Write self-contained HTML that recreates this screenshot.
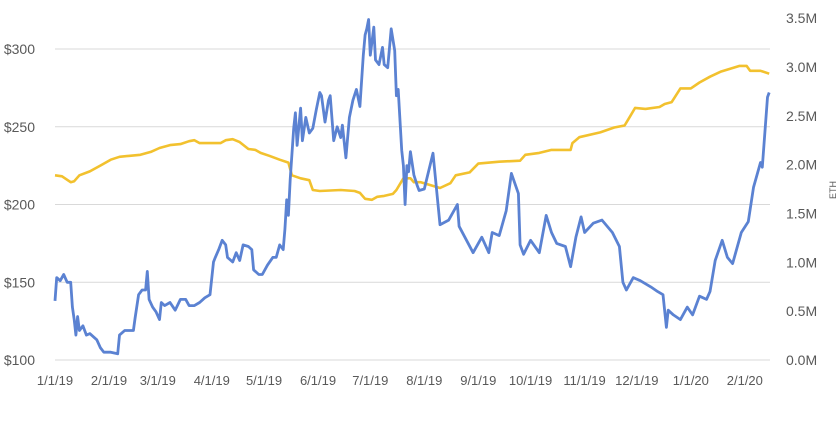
<!DOCTYPE html>
<html><head><meta charset="utf-8"><style>
body{margin:0;background:#fff;width:840px;height:430px;overflow:hidden}
svg text{font-family:"Liberation Sans",sans-serif;fill:#595959}
</style></head><body>
<svg id="chart" width="840" height="430" xmlns="http://www.w3.org/2000/svg">
<g id="grid"></g>
<g id="yl"></g>
<g id="yr"></g>
<g id="xl"></g>
<text transform="translate(836,190) rotate(-90)" text-anchor="middle" font-size="9">ETH</text>
<path id="holdLine" fill="none" stroke="#f2c12e" stroke-width="2.6" stroke-linejoin="round"></path>
<path id="priceLine" fill="none" stroke="#5b82d2" stroke-width="2.8" stroke-linejoin="round"></path>
</svg>
<script>
const priceDays=[0,1,3,5,7,9,10,11,12,13,14,16,18,20,24,26,28,32,36,37,40,45,46,48,50,52,53,54,56,58,60,61,63,66,69,72,75,77,80,83,86,89,91,92,94,96,98,99,102,104,106,108,111,113,114,117,119,122,125,127,129,131,132,133,134,135,137,138,139,141,142,144,146,148,150,152,153,155,157,158,160,162,164,165,167,169,171,173,175,177,178,179,180,181,183,184,186,188,189,191,193,195,196,197,199,200,201,202,203,204,206,208,209,212,217,221,226,231,232,240,245,249,251,255,259,262,266,267,269,273,278,282,285,288,293,296,299,302,304,309,314,320,324,326,328,332,336,342,346,349,351,352,355,359,363,366,370,374,376,379,383,386,389,394,398,401,405,406,409,410];
const priceValues=[138,153,151,155,150,150,134,126,116,128,119,122,116,117,113,108,105,105,104,116,119,119,127,142,145,145,157,139,134,131,126,137,135,137,132,139,139,135,135,137,140,142,163,166,171,177,174,166,163,169,164,174,173,171,158,155,155,161,166,166,174,171,184,203,193,216,249,259,238,262,241,256,246,249,261,272,270,253,267,270,241,250,243,251,230,256,267,274,263,296,309,313,319,296,314,293,290,301,290,288,313,299,270,274,235,225,200,225,221,234,219,212,209,210,233,187,190,200,186,169,179,169,182,180,196,220,207,174,168,177,169,193,182,175,173,160,179,192,182,188,190,182,173,150,145,153,151,147,144,142,121,132,129,126,134,129,141,139,144,164,177,166,162,182,189,211,227,224,269,272];
const holdDays=[0,4,9,11,14,20,26,32,37,43,49,55,60,66,72,77,80,83,89,95,98,102,106,111,115,118,123,129,134,136,141,146,148,152,164,172,175,178,182,185,189,194,196,200,204,206,210,221,227,230,238,243,255,267,270,278,285,296,297,301,313,321,327,330,333,339,347,350,354,359,365,370,376,382,393,397,399,405,410];
const holdValues=[1.89,1.88,1.82,1.83,1.89,1.93,1.99,2.05,2.08,2.09,2.10,2.13,2.17,2.20,2.21,2.24,2.25,2.22,2.22,2.22,2.25,2.26,2.23,2.16,2.15,2.12,2.09,2.05,2.02,1.89,1.86,1.84,1.74,1.73,1.74,1.73,1.71,1.65,1.64,1.67,1.68,1.70,1.74,1.86,1.86,1.82,1.82,1.76,1.81,1.89,1.92,2.01,2.03,2.04,2.10,2.12,2.15,2.15,2.22,2.28,2.33,2.38,2.40,2.49,2.58,2.57,2.59,2.62,2.64,2.78,2.78,2.84,2.90,2.95,3.01,3.01,2.96,2.96,2.93];
const leftTicks=[100,150,200,250,300];
const rightTicks=[0,0.5,1.0,1.5,2.0,2.5,3.0,3.5];
const monthLabels=["1/1/19","2/1/19","3/1/19","4/1/19","5/1/19","6/1/19","7/1/19","8/1/19","9/1/19","10/1/19","11/1/19","12/1/19","1/1/20","2/1/20"];
const monthDays=[0,31,59,90,120,151,181,212,243,273,304,334,365,396];

const X=d=>55+d*1.742;
const YL=p=>360-(p-100)*1.555;
const YR=m=>360-m*97.7;
const NS="http://www.w3.org/2000/svg";
function mk(tag,parent,attrs,txt){const e=document.createElementNS(NS,tag);for(const k in attrs)e.setAttribute(k,attrs[k]);if(txt!==undefined)e.textContent=txt;parent.appendChild(e);return e;}
const grid=document.getElementById('grid'),yl=document.getElementById('yl'),yr=document.getElementById('yr'),xl=document.getElementById('xl');
leftTicks.forEach(v=>{
  const l=mk('line',grid,{x1:55,x2:770,y1:YL(v),y2:YL(v),stroke:'#d9d9d9','stroke-width':1});
  
  
  const t=mk('text',yl,{x:35,y:YL(v)+5,'text-anchor':'end','font-size':14},'$'+v);
  
  
});
rightTicks.forEach(v=>{
  const t=mk('text',yr,{x:786,y:YR(v)+5,'font-size':14},v.toFixed(1)+'M');
  
  
});
monthLabels.forEach((s,i)=>{
  const t=mk('text',xl,{x:X(monthDays[i]),y:385,'text-anchor':'middle','font-size':13},s);
  
  
});
document.getElementById('priceLine').setAttribute('d',priceDays.map((d,i)=>(i?'L':'M')+X(d).toFixed(1)+' '+YL(priceValues[i]).toFixed(1)).join(' '));
document.getElementById('holdLine').setAttribute('d',holdDays.map((d,i)=>(i?'L':'M')+X(d).toFixed(1)+' '+YR(holdValues[i]).toFixed(1)).join(' '));
</script>
</body></html>
